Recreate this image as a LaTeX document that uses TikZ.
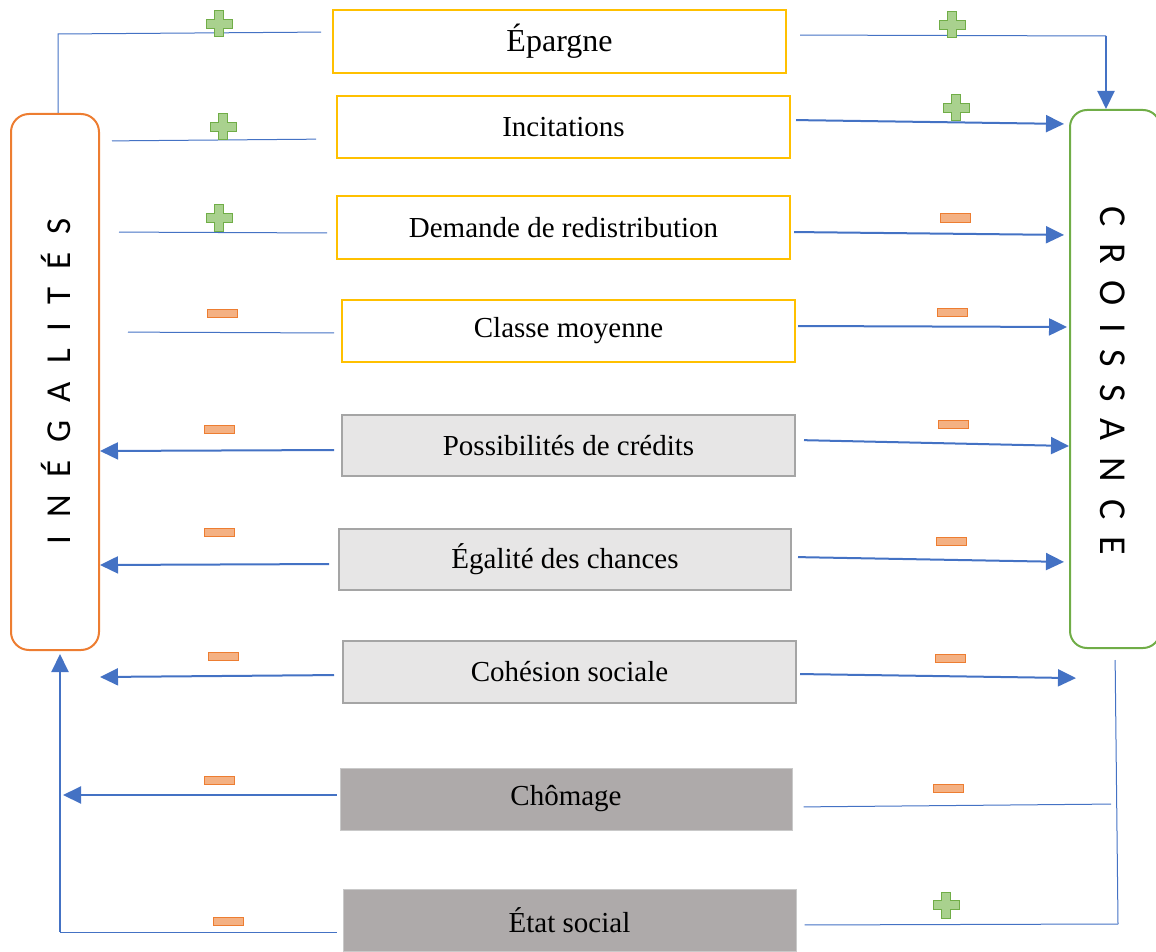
\documentclass[tikz,border=0pt]{standalone}
\usepackage{fontspec}
\setmainfont{Liberation Serif}
\newfontfamily\calibri{Carlito}
\usetikzlibrary{arrows.meta}
\definecolor{linkblue}{HTML}{4472C4}
\definecolor{boxyellow}{HTML}{FFC000}
\definecolor{inegorange}{HTML}{ED7D31}
\definecolor{croisgreen}{HTML}{70AD47}
\definecolor{plusfill}{HTML}{A9D18E}
\definecolor{minusfill}{HTML}{F4B183}
\definecolor{lightfill}{HTML}{E7E6E6}
\definecolor{lightedge}{HTML}{A5A5A5}
\definecolor{darkfill}{HTML}{AEAAAA}
\definecolor{darkedge}{HTML}{C9C9C9}

\begin{document}
\begin{tikzpicture}[x=1pt, y=-1pt,
  itembox/.style={draw=boxyellow, line width=2pt, minimum width=453pt, minimum height=62pt, inner sep=0pt, font=\fontsize{29}{34}\selectfont},
  lightbox/.style={itembox, draw=lightedge, fill=lightfill},
  darkbox/.style={itembox, draw=darkedge, line width=1pt, fill=darkfill},
  sidebox/.style={rounded corners=18pt, line width=2pt, minimum width=88pt, minimum height=536pt},
  link/.style={linkblue, line width=1pt},
  arr/.style={linkblue, line width=2pt, -{Triangle[length=18pt, width=17pt]}},
  minusbox/.style={draw=inegorange, fill=minusfill, line width=1pt, minimum width=30pt, minimum height=8pt, inner sep=0pt},
  plussign/.pic={\draw[croisgreen, fill=plusfill, line width=1pt] (-4.5,-13) -- (4.5,-13) -- (4.5,-4.5) -- (13,-4.5) -- (13,4.5) -- (4.5,4.5) -- (4.5,13) -- (-4.5,13) -- (-4.5,4.5) -- (-13,4.5) -- (-13,-4.5) -- (-4.5,-4.5) -- cycle;}]
\useasboundingbox (0,0) rectangle (1156,952);

\node[sidebox, draw=inegorange] (ineg) at (55,382) {};
\node[sidebox, draw=croisgreen, minimum width=90pt, minimum height=538pt, rounded corners=17pt] (crois) at (1115,379) {};
\node[rotate=90, anchor=base, font=\calibri\fontsize{35}{40}\selectfont] (inegtext) at (70,381.5) {\spaceskip=18pt I N É G A L I T É S};
\node[rotate=-90, anchor=base, font=\calibri\fontsize{38}{44}\selectfont] (croistext) at (1100,380.5) {\spaceskip=17pt C R O I S S A N C E};

\node[itembox, minimum height=63pt, font=\fontsize{32}{36}\selectfont] (epargne) at (559.5,41.5) {Épargne};
\node[itembox] (incit) at (563.5,127) {Incitations};
\node[itembox, minimum height=63pt] (redis) at (563.5,227.5) {Demande de redistribution};
\node[itembox] (classe) at (568.5,331) {Classe moyenne};
\node[lightbox, minimum height=61pt] (credit) at (568.5,445.5) {Possibilités de crédits};
\node[lightbox, minimum width=452pt, minimum height=61pt] (egal) at (565,559.5) {Égalité des chances};
\node[lightbox] (cohes) at (569.5,672) {Cohésion sociale};
\node[darkbox, minimum width=452pt] (chom) at (566,799) {Chômage};
\node[darkbox] (etat) at (569.5,920) {État social};

\coordinate (lcorner) at (58,34);
\coordinate (lbottom) at (60,932);
\coordinate (rtop) at (1106,36);
\coordinate (rbottom) at (1118,924);

\draw[link, shorten <=11pt] (epargne.west |- 0,32) -- (lcorner) -- (lcorner |- ineg.north);
\draw[link, shorten <=20pt, shorten >=12pt] (incit.west |- 0,139) -- (ineg.east |- 0,141);
\draw[link, shorten <=9pt, shorten >=19pt] (redis.west |- 0,233) -- (ineg.east |- 0,232);
\draw[link, shorten <=7pt, shorten >=28pt] (classe.west |- 0,333) -- (ineg.east |- 0,332);
\draw[arr, shorten <=7pt] (credit.west |- 0,450) -- (ineg.east |- 0,451);
\draw[arr, shorten <=9pt] (egal.west |- 0,564) -- (ineg.east |- 0,565);
\draw[arr, shorten <=8pt] (cohes.west |- 0,675) -- (ineg.east |- 0,677);
\draw[arr, shorten <=3pt, shorten >=3pt] (chom.west |- 0,795) -- (lbottom |- 0,795);
\draw[link, shorten <=6pt] (etat.west |- 0,932) -- (lbottom);
\draw[arr, shorten >=3pt] (lbottom) -- (lbottom |- ineg.south);

\draw[link, shorten <=13pt] (epargne.east |- 0,35) -- (rtop);
\draw[arr] (rtop) -- (rtop |- crois.north);
\draw[arr, shorten <=5pt, shorten >=5pt] (incit.east |- 0,120) -- (crois.west |- 0,124);
\draw[arr, shorten <=3pt, shorten >=5pt] (redis.east |- 0,232) -- (crois.west |- 0,235);
\draw[arr, shorten <=2pt, shorten >=2pt] (classe.east |- 0,326) -- (crois.west |- 0,327);
\draw[arr, shorten <=8pt] (credit.east |- 0,440) -- (crois.west |- 0,446);
\draw[arr, shorten <=6pt, shorten >=5pt] (egal.east |- 0,557) -- (crois.west |- 0,562);
\draw[arr, shorten <=3pt, shorten >=-7pt] (cohes.east |- 0,674) -- (crois.west |- 0,678);
\draw[link, shorten <=11pt, shorten >=7pt] (chom.east |- 0,807) -- (rbottom |- 0,804);
\draw[link, shorten <=8pt] (etat.east |- 0,925) -- (rbottom);
\draw[link, shorten <=11pt] (crois.south) -- (rbottom);

\foreach \p in {{219,24},{223,127},{219,218},{952,25},{956,108},{946,905}}
  \pic at (\p) {plussign};
\foreach \p [count=\i] in {{222,313},{219,429},{219,532},{223,656},{219,780},{228,921},{955,218},{952,312},{953,424},{951,541},{950,658},{948,788}}
  \node[minusbox] (minus\i) at (\p) {};
\end{tikzpicture}
\end{document}
